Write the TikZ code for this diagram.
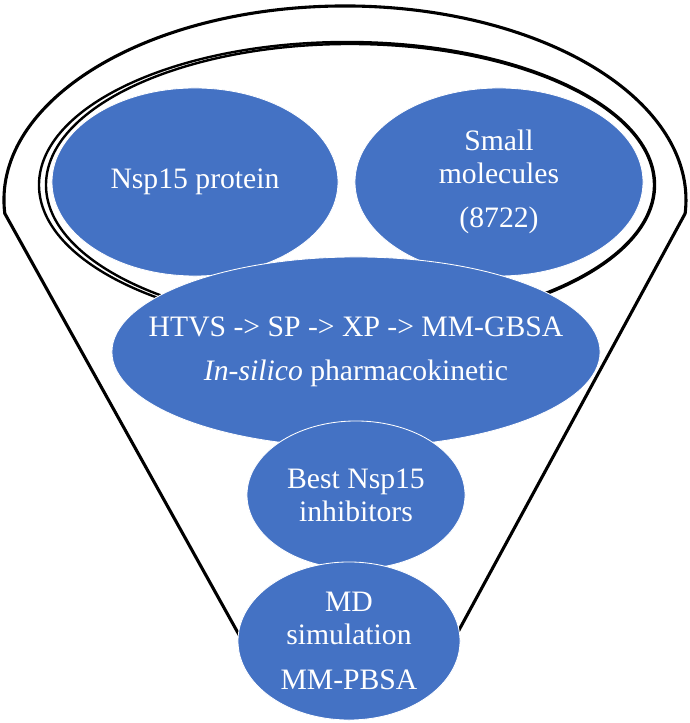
\documentclass[tikz,border=0pt]{standalone}
\usepackage{fontspec}
\setmainfont{Liberation Serif}
\usepackage{xcolor}
\usetikzlibrary{shapes.geometric}
\definecolor{funnelblue}{HTML}{4472C4}

\begin{document}
\begin{tikzpicture}[x=0.025cm,y=0.025cm,
    rim/.style={line width=2.2pt,black},
    bubble/.style={ellipse,fill=funnelblue,draw=white,line width=0.6pt,inner sep=0pt},
    txt/.style={text=white,align=center,font=\fontsize{21.1}{23.5}\selectfont}]
  \useasboundingbox (0,0) rectangle (690,723);
  % funnel outline
  \draw[rim,line join=round] (244.7,78) -- (4.8,509.5)
    arc[start angle=184,end angle=-4,x radius=341,y radius=194] -- (453.6,83);
  % inner rim (doubled on the left)
  \draw[rim,line width=1.7pt] (347,538) ellipse[x radius=308,y radius=143];
  \draw[rim,line width=1.7pt] (350,538) ellipse[x radius=304,y radius=141];
  % inputs
  \node[bubble,minimum width=7.15cm,minimum height=4.7cm] (nsp) at (195,541) {};
  \node[txt] (nsptext) at (nsp) {Nsp15 protein};
  \node[bubble,minimum width=7.2cm,minimum height=4.7cm] (mols) at (499,541) {};
  \node[txt] (molstext) at (mols) {Small\\molecules\\[8pt](8722)};
  % screening stages
  \node[bubble,minimum width=12.2cm,minimum height=4.75cm] (screen) at (356,371) {};
  \node[txt] (screentext) at (screen) {HTVS -> SP -> XP -> MM-GBSA\\[8pt]\textit{In-silico} pharmacokinetic};
  \node[bubble,minimum width=5.45cm,minimum height=3.7cm] (best) at (356,228) {};
  \node[txt] (besttext) at (best) {Best Nsp15\\inhibitors};
  \node[bubble,minimum width=5.55cm,minimum height=3.95cm] (md) at (349,82) {};
  \node[txt] (mdtext) at (md) {MD\\simulation\\[8pt]MM-PBSA};
\end{tikzpicture}
\end{document}
